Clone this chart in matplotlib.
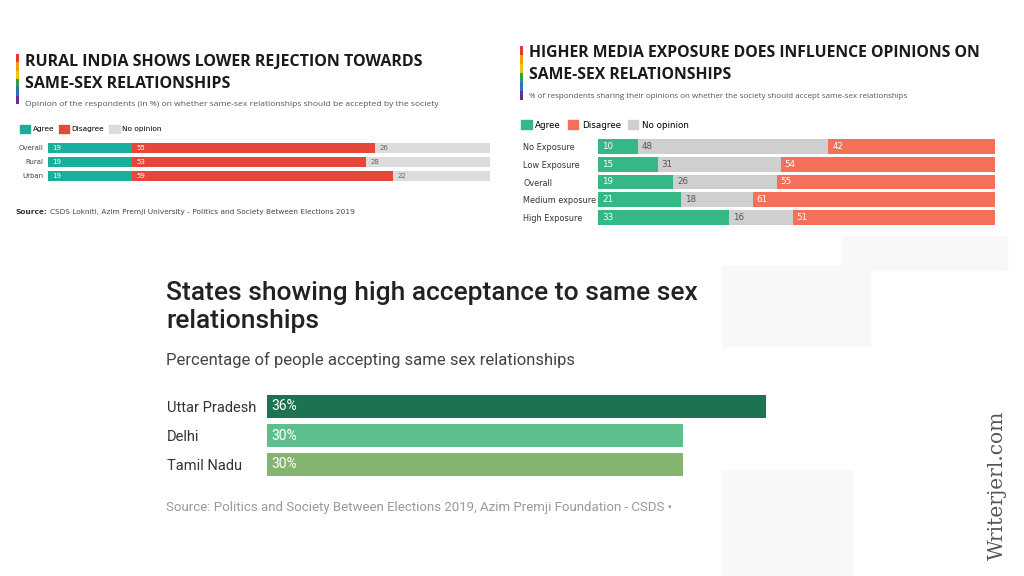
import matplotlib
matplotlib.use("Agg")
import matplotlib.pyplot as plt
from matplotlib.patches import Rectangle, Patch

W, H = 1024, 576

# ---- data ----
rural_cats = ["Overall", "Rural", "Urban"]
rural_agree = [19, 19, 19]
rural_disagree = [55, 53, 59]
rural_noop = [26, 28, 22]

media_cats = ["No Exposure", "Low Exposure", "Overall", "Medium exposure", "High Exposure"]
media_agree = [10, 15, 19, 21, 33]
media_noop = [48, 31, 26, 18, 16]
media_disagree = [42, 54, 55, 61, 51]

states = ["Uttar Pradesh", "Delhi", "Tamil Nadu"]
state_pct = [36, 30, 30]
state_colors = ["#1b7352", "#5cbf8c", "#84b46e"]

rainbow = ["#e53935", "#f39c12", "#f1c40f", "#2e9e47", "#2f6fc0", "#6a2c91"]


def box(x, y, w, h):
    # pixel box (top-left origin) -> figure fraction
    return [x / W, 1 - (y + h) / H, w / W, h / H]


def fx(x):
    return x / W


def fy(y):
    return 1 - y / H


fig = plt.figure(figsize=(W / 100, H / 100), dpi=100)
fig.patch.set_facecolor("white")

# faint paper patches
for (x, y, w, h) in [(722, 266, 148, 80), (842, 236, 165, 34), (722, 470, 130, 106)]:
    fig.add_artist(Rectangle((fx(x), fy(y + h)), w / W, h / H, transform=fig.transFigure,
                             color="#f8f8f8", zorder=0))


def rainbow_bar(x, y0, y1):
    step = (y1 - y0) / len(rainbow)
    for i, c in enumerate(rainbow):
        fig.add_artist(Rectangle((fx(x), fy(y0 + (i + 1) * step)), 3 / W, step / H,
                                 transform=fig.transFigure, color=c, lw=0))


# ---- top-left chart ----
rainbow_bar(16, 54, 104)
fig.text(fx(25), fy(73), "RURAL INDIA SHOWS LOWER REJECTION TOWARDS\nSAME-SEX RELATIONSHIPS",
         fontsize=11.5, fontweight="bold", family="Open Sans", color="#1a1a1a",
         va="center", ha="left", linespacing=1.55)
fig.text(fx(25), fy(104), "Opinion of the respondents (in %) on whether same-sex relationships should be accepted by the society",
         fontsize=6.1, color="#555555", va="center", family="Open Sans")

c_ag, c_dis, c_no = "#1aae9c", "#e5483a", "#dcdcdc"
ax1 = fig.add_axes(box(48, 141, 442, 42))
left = [0] * 3
for vals, col, tcol in [(rural_agree, c_ag, "white"), (rural_disagree, c_dis, "white"), (rural_noop, c_no, "#666666")]:
    ax1.barh(range(3), vals, left=left, height=0.78, color=col, lw=0)
    for i, v in enumerate(vals):
        ax1.text(left[i] + 1, i, str(v), va="center", ha="left", fontsize=5, color=tcol)
    left = [l + v for l, v in zip(left, vals)]
ax1.set_xlim(0, 100)
ax1.set_ylim(2.5, -0.5)
ax1.set_yticks(range(3))
ax1.set_yticklabels(rural_cats, fontsize=5, color="#444444")
ax1.set_xticks([])
ax1.tick_params(length=0, pad=3)
for s in ax1.spines.values():
    s.set_visible(False)
ax1.patch.set_alpha(0)
fig.legend(handles=[Patch(color=c_ag, label="Agree"), Patch(color=c_dis, label="Disagree"),
                    Patch(color=c_no, label="No opinion")],
           loc="center left", bbox_to_anchor=(fx(20), fy(129)), ncol=3, frameon=False,
           fontsize=5.3, handlelength=1.4, handleheight=1.3, handletextpad=0.3, columnspacing=0.7,
           borderpad=0, borderaxespad=0)
src_b = fig.text(fx(16), fy(212), "Source:", fontsize=5.3, fontweight="bold", color="#333333", va="center")
fig.canvas.draw()
bb = src_b.get_window_extent(renderer=fig.canvas.get_renderer())
fig.text(bb.x1 / W + fx(2), fy(212), "CSDS Lokniti, Azim Premji University - Politics and Society Between Elections 2019",
         fontsize=5.3, color="#444444", va="center")

# ---- top-right chart ----
rainbow_bar(520, 46, 100)
fig.text(fx(529), fy(64), "HIGHER MEDIA EXPOSURE DOES INFLUENCE OPINIONS ON\nSAME-SEX RELATIONSHIPS",
         fontsize=11.3, fontweight="bold", family="Open Sans", color="#1a1a1a",
         va="center", ha="left", linespacing=1.55)
fig.text(fx(529), fy(97), "% of respondents sharing their opinions on whether the society should accept same-sex relationships",
         fontsize=5.8, color="#555555", va="center", family="Open Sans")

m_ag, m_no, m_dis = "#35b886", "#cfcfcf", "#f4705a"
ax2 = fig.add_axes(box(598, 138, 397, 88))
left = [0] * 5
for vals, col, tcol in [(media_agree, m_ag, "white"), (media_noop, m_no, "#555555"), (media_disagree, m_dis, "white")]:
    ax2.barh(range(5), vals, left=left, height=0.84, color=col, lw=0)
    for i, v in enumerate(vals):
        ax2.text(left[i] + 1, i, str(v), va="center", ha="left", fontsize=6.3, color=tcol)
    left = [l + v for l, v in zip(left, vals)]
ax2.set_xlim(0, 100)
ax2.set_ylim(4.5, -0.5)
ax2.set_yticks(range(5))
ax2.set_yticklabels(media_cats, fontsize=5.9, color="#333333", ha="left")
ax2.tick_params(axis="y", length=0, pad=54)
ax2.set_xticks([])
for s in ax2.spines.values():
    s.set_visible(False)
ax2.patch.set_alpha(0)
fig.legend(handles=[Patch(color=m_ag, label="Agree"), Patch(color=m_dis, label="Disagree"),
                    Patch(color=m_no, label="No opinion")],
           loc="center left", bbox_to_anchor=(fx(521), fy(125)), ncol=3, frameon=False,
           fontsize=6.3, handlelength=1.2, handleheight=1.2, handletextpad=0.4, columnspacing=0.8,
           borderpad=0, borderaxespad=0)

# ---- bottom chart ----
fig.text(fx(166), fy(307), "States showing high acceptance to same sex\nrelationships",
         fontsize=19, family="Roboto", fontweight="medium", color="#222222",
         va="center", ha="left", linespacing=1.25)
fig.text(fx(166), fy(360), "Percentage of people accepting same sex relationships",
         fontsize=12, family="Roboto", color="#444444", va="center", ha="left")

ax3 = fig.add_axes(box(267, 392, 499, 87))
ax3.barh(range(3), state_pct, height=0.8, color=state_colors, lw=0)
for i, v in enumerate(state_pct):
    ax3.text(0.3, i, f"{v}%", va="center", ha="left", fontsize=10, color="white", family="Roboto")
ax3.set_xlim(0, max(state_pct))
ax3.set_ylim(2.5, -0.5)
ax3.set_yticks(range(3))
ax3.set_yticklabels(states, fontsize=10.5, color="#333333", family="Roboto", ha="left")
ax3.tick_params(axis="y", length=0, pad=72)
ax3.set_xticks([])
for s in ax3.spines.values():
    s.set_visible(False)
ax3.patch.set_alpha(0)

fig.text(fx(166), fy(508), "Source: Politics and Society Between Elections 2019, Azim Premji Foundation - CSDS •",
         fontsize=9.5, family="Roboto", color="#999999", va="center", ha="left")

# watermark
fig.text(fx(997), fy(485), "Writerjerl.com", rotation=90, fontsize=14.5, family="DejaVu Serif",
         color="#555555", va="center", ha="center")

fig.savefig("out.png", dpi=100, facecolor="white")
